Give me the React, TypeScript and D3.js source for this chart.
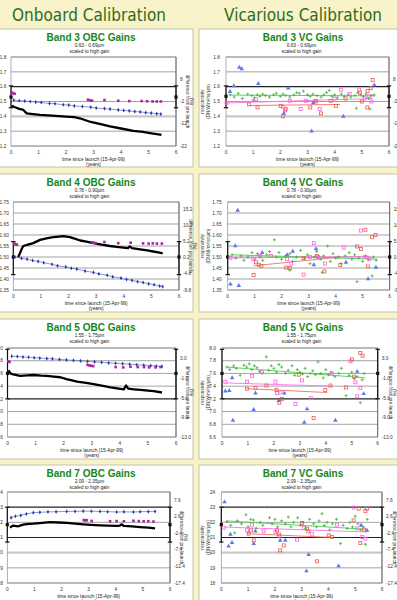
import * as d3 from 'd3'

type P = [number, number]

// ---- Band 3 (0.63 - 0.69µm)
const b3Ticks = [1.2, 1.3, 1.4, 1.5, 1.6, 1.7, 1.8]
const b3RightTicks = [-22, -12, -2, 8]
const b3ObcBlack: P[] = [[0.02, 1.47], [0.1, 1.465], [0.3, 1.45], [0.45, 1.443], [0.57, 1.42], [0.8, 1.415], [1.05, 1.41], [1.5, 1.405], [2.0, 1.398], [2.3, 1.395], [2.5, 1.387], [2.9, 1.362], [3.3, 1.345], [3.6, 1.332], [4.0, 1.318], [4.45, 1.302], [4.8, 1.295], [5.05, 1.287], [5.3, 1.28], [5.47, 1.275]]
const b3ObcBlue: P[] = [[0.1, 1.51], [0.3, 1.505], [0.5, 1.503], [0.7, 1.5], [0.9, 1.496], [1.1, 1.493], [1.4, 1.487], [1.6, 1.485], [1.9, 1.478], [2.1, 1.476], [2.3, 1.47], [2.6, 1.466], [2.9, 1.462], [3.1, 1.456], [3.4, 1.452], [3.6, 1.449], [3.9, 1.443], [4.1, 1.44], [4.3, 1.437], [4.5, 1.432], [4.7, 1.43], [4.9, 1.425], [5.1, 1.422], [5.3, 1.418], [5.45, 1.416]]
const b3ObcMag: P[] = [[0.03, 1.56], [0.08, 1.555], [0.13, 1.552], [2.8, 1.512], [2.88, 1.508], [2.95, 1.505], [3.4, 1.51], [3.9, 1.505], [4.3, 1.503], [4.75, 1.503], [4.95, 1.502], [5.15, 1.5], [5.3, 1.5], [5.45, 1.5]]
const b3VcGreen: P[] = [[0.15, 1.545], [0.3, 1.53], [0.45, 1.555], [0.6, 1.52], [0.8, 1.55], [0.95, 1.54], [1.0, 1.51], [1.05, 1.525], [1.15, 1.545], [1.25, 1.535], [1.35, 1.55], [1.45, 1.54], [1.6, 1.53], [1.75, 1.545], [1.85, 1.555], [2.0, 1.535], [2.1, 1.55], [2.2, 1.54], [2.35, 1.53], [2.5, 1.545], [2.6, 1.56], [2.7, 1.555], [2.85, 1.57], [3.0, 1.545], [3.1, 1.535], [3.2, 1.55], [3.35, 1.54], [3.5, 1.53], [3.6, 1.545], [3.7, 1.56], [3.8, 1.575], [3.9, 1.535], [4.0, 1.545], [4.1, 1.525], [4.25, 1.55], [4.35, 1.535], [4.5, 1.545], [4.6, 1.53], [4.75, 1.54], [4.8, 1.455], [4.85, 1.56], [4.95, 1.545], [5.05, 1.535], [5.15, 1.55], [5.25, 1.52], [5.3, 1.45], [5.35, 1.54], [5.45, 1.545]]
const b3VcPink: P[] = [[0.02, 1.49], [1.1, 1.515], [2.1, 1.465], [2.2, 1.45], [2.35, 1.505], [2.75, 1.45], [2.95, 1.505], [3.3, 1.5], [3.45, 1.45], [4.0, 1.52], [4.23, 1.58], [4.55, 1.55], [4.9, 1.58], [5.1, 1.52], [5.25, 1.535], [5.35, 1.5]]
const b3VcSalmon: P[] = [[0.85, 1.48], [1.16, 1.46], [2.01, 1.47], [2.1, 1.4], [2.18, 1.44], [3.1, 1.46], [3.3, 1.505], [3.5, 1.42], [3.85, 1.505], [4.05, 1.47], [4.4, 1.52], [4.93, 1.56], [5.0, 1.5], [5.2, 1.46], [5.21, 1.57], [5.33, 1.59], [5.4, 1.645]]
const b3VcBlue: P[] = [[0.15, 1.567], [0.29, 1.605], [0.49, 1.73], [0.58, 1.72], [1.19, 1.62], [2.13, 1.42], [2.29, 1.59], [3.15, 1.3], [3.21, 1.49], [4.32, 1.4], [5.46, 1.61]]
const b3TrendGreen: P[] = [[0.15, 1.543], [5.5, 1.538]]
const b3TrendPink: P[] = [[0.0, 1.49], [5.4, 1.52]]
const b3TrendSalmon: P[] = [[0.85, 1.473], [4.2, 1.48]]

// ---- Band 4 (0.78 - 0.90µm)
const b4Ticks = [1.35, 1.4, 1.45, 1.5, 1.55, 1.6, 1.65, 1.7, 1.75]
const b4RightTicks = [-9.8, -4.8, 0.2, 5.2, 10.2, 15.2]
const b4ObcBlack: P[] = [[0.18, 1.5], [0.25, 1.52], [0.3, 1.535], [0.36, 1.55], [0.5, 1.555], [0.72, 1.563], [0.97, 1.578], [1.2, 1.585], [1.45, 1.59], [1.65, 1.593], [1.81, 1.595], [2.05, 1.59], [2.25, 1.582], [2.42, 1.575], [2.65, 1.57], [2.9, 1.563], [3.2, 1.556], [3.5, 1.55], [3.75, 1.546], [3.99, 1.543], [4.15, 1.54], [4.22, 1.548], [4.3, 1.54], [4.59, 1.535], [4.85, 1.53], [5.07, 1.525], [5.25, 1.521], [5.41, 1.517]]
const b4ObcBlue: P[] = [[0.06, 1.5], [0.3, 1.494], [0.5, 1.49], [0.7, 1.484], [0.9, 1.48], [1.1, 1.474], [1.4, 1.467], [1.6, 1.46], [1.9, 1.455], [2.1, 1.449], [2.3, 1.445], [2.6, 1.436], [2.9, 1.43], [3.1, 1.423], [3.4, 1.417], [3.6, 1.41], [3.9, 1.404], [4.1, 1.398], [4.3, 1.394], [4.5, 1.388], [4.7, 1.384], [4.9, 1.378], [5.1, 1.374], [5.3, 1.368], [5.41, 1.365]]
const b4ObcMag: P[] = [[0.03, 1.562], [0.08, 1.558], [0.13, 1.556], [2.85, 1.567], [2.92, 1.565], [2.98, 1.563], [3.3, 1.568], [3.8, 1.563], [4.25, 1.565], [4.7, 1.562], [4.9, 1.561], [5.05, 1.562], [5.2, 1.561], [5.38, 1.561]]
const b4VcGreen: P[] = [[0.16, 1.51], [0.3, 1.495], [0.5, 1.505], [0.6, 1.485], [0.75, 1.5], [0.9, 1.52], [1.0, 1.49], [1.1, 1.515], [1.2, 1.5], [1.3, 1.485], [1.45, 1.51], [1.55, 1.525], [1.73, 1.578], [1.8, 1.5], [1.9, 1.52], [2.0, 1.49], [2.15, 1.505], [2.3, 1.515], [2.3, 1.44], [2.4, 1.48], [2.55, 1.5], [2.7, 1.53], [2.85, 1.495], [2.95, 1.51], [3.05, 1.47], [3.2, 1.5], [3.3, 1.525], [3.45, 1.49], [3.5, 1.43], [3.55, 1.505], [3.7, 1.55], [3.8, 1.48], [3.9, 1.515], [4.0, 1.495], [4.1, 1.5], [4.2, 1.47], [4.35, 1.505], [4.5, 1.52], [4.6, 1.49], [4.7, 1.51], [4.79, 1.388], [4.85, 1.495], [5.0, 1.48], [5.1, 1.505], [5.2, 1.49], [5.35, 1.414], [5.4, 1.5], [5.5, 1.485]]
const b4VcPink: P[] = [[0.1, 1.497], [0.95, 1.49], [1.2, 1.505], [1.6, 1.505], [2.2, 1.49], [2.35, 1.47], [2.81, 1.42], [3.05, 1.5], [3.19, 1.563], [3.35, 1.5], [3.6, 1.47], [4.3, 1.543], [4.94, 1.62], [5.1, 1.5], [5.25, 1.49]]
const b4VcSalmon: P[] = [[0.96, 1.418], [1.05, 1.476], [1.15, 1.465], [1.25, 1.46], [2.17, 1.452], [2.3, 1.45], [2.81, 1.495], [3.3, 1.505], [3.58, 1.434], [4.17, 1.464], [4.79, 1.548], [4.94, 1.536], [5.1, 1.624], [5.19, 1.457], [5.35, 1.59], [5.47, 1.6]]
const b4VcBlue: P[] = [[0.1, 1.377], [0.28, 1.55], [0.37, 1.712], [0.41, 1.37], [1.28, 1.52], [2.2, 1.51], [2.41, 1.525], [3.19, 1.464], [3.27, 1.537], [4.38, 1.475], [5.2, 1.4], [5.49, 1.453]]
const b4TrendGreen: P[] = [[0.16, 1.51], [5.53, 1.49]]
const b4TrendPink: P[] = [[0.1, 1.495], [5.3, 1.503]]
const b4TrendSalmon: P[] = [[0.96, 1.46], [4.17, 1.5]]

// ---- Band 5 (1.55 - 1.75µm)
const b5Ticks = [6.6, 6.8, 7.0, 7.2, 7.4, 7.6, 7.8, 8.0]
const b5RightTicks = [-13, -9, -5, -1, 3]
const b5ObcBlack: P[] = [[0.04, 7.65], [0.1, 7.6], [0.2, 7.585], [0.45, 7.56], [0.7, 7.57], [0.93, 7.575], [1.2, 7.565], [1.4, 7.56], [1.65, 7.55], [1.88, 7.54], [2.1, 7.51], [2.3, 7.49], [2.48, 7.47], [2.8, 7.45], [3.07, 7.43], [3.4, 7.405], [3.67, 7.38], [3.9, 7.365], [4.14, 7.35], [4.22, 7.41], [4.3, 7.36], [4.5, 7.35], [4.74, 7.34], [5.0, 7.33], [5.21, 7.32], [5.5, 7.3]]
const b5ObcBlue: P[] = [[0.15, 7.87], [0.35, 7.866], [0.55, 7.858], [0.75, 7.855], [0.95, 7.846], [1.15, 7.842], [1.4, 7.833], [1.6, 7.83], [1.85, 7.82], [2.1, 7.813], [2.35, 7.805], [2.6, 7.797], [2.85, 7.79], [3.1, 7.782], [3.35, 7.775], [3.6, 7.766], [3.85, 7.76], [4.1, 7.752], [4.35, 7.745], [4.6, 7.737], [4.85, 7.73], [5.1, 7.722], [5.3, 7.716], [5.5, 7.71]]
const b5ObcMag: P[] = [[0.03, 7.79], [0.07, 7.78], [2.85, 7.735], [2.92, 7.725], [2.98, 7.72], [3.05, 7.715], [3.85, 7.7], [4.12, 7.695], [4.38, 7.705], [4.64, 7.7], [4.86, 7.7], [5.04, 7.695], [5.27, 7.695], [5.45, 7.7]]
const b5VcGreen: P[] = [[0.19, 7.7], [0.3, 7.66], [0.45, 7.72], [0.55, 7.68], [0.7, 7.57], [0.85, 7.73], [0.95, 7.7], [1.05, 7.75], [1.15, 7.66], [1.25, 7.72], [1.35, 7.69], [1.45, 7.63], [1.55, 7.6], [1.71, 7.86], [1.8, 7.65], [1.9, 7.72], [2.0, 7.68], [2.1, 7.62], [2.2, 7.74], [2.3, 7.7], [2.45, 7.6], [2.55, 7.65], [2.7, 7.72], [2.8, 7.57], [2.9, 7.66], [3.0, 7.62], [3.1, 7.59], [3.2, 7.68], [3.3, 7.55], [3.4, 7.6], [3.5, 7.64], [3.6, 7.58], [3.7, 7.78], [3.8, 7.6], [3.9, 7.53], [4.0, 7.66], [4.1, 7.58], [4.2, 7.62], [4.35, 7.55], [4.5, 7.6], [4.6, 7.68], [4.78, 7.25], [4.9, 7.57], [5.0, 7.62], [5.1, 7.52], [5.2, 7.55], [5.33, 7.14], [5.4, 7.5], [5.48, 7.6]]
const b5VcPink: P[] = [[0.13, 7.47], [0.96, 7.47], [1.16, 7.56], [1.54, 7.62], [2.06, 7.47], [2.12, 7.29], [2.25, 7.3], [2.83, 7.12], [3.08, 7.49], [3.43, 7.21], [4.24, 7.6], [4.95, 7.79], [5.14, 7.46], [5.21, 7.24], [5.33, 7.37]]
const b5VcSalmon: P[] = [[0.96, 7.36], [1.29, 7.37], [1.71, 7.41], [2.1, 7.34], [2.21, 7.14], [2.31, 7.2], [2.96, 7.58], [3.53, 6.9], [3.98, 7.34], [4.18, 7.41], [4.78, 7.38], [5.01, 7.82], [5.08, 7.55], [5.33, 7.92], [5.42, 7.88]]
const b5VcBlue: P[] = [[0.13, 7.32], [0.28, 7.33], [0.39, 7.53], [0.42, 6.86], [1.22, 7.03], [1.29, 7.29], [2.19, 7.17], [2.4, 7.29], [3.17, 6.83], [3.28, 7.04], [4.37, 6.86], [5.21, 7.63], [5.46, 7.28]]
const b5TrendGreen: P[] = [[0.19, 7.7], [5.53, 7.53]]
const b5TrendPink: P[] = [[0.13, 7.45], [4.24, 7.4]]
const b5TrendSalmon: P[] = [[0.96, 7.36], [4.05, 7.3]]

// ---- Band 7 (2.09 - 2.35µm)
const b7Ticks = [18, 19, 20, 21, 22, 23, 24]
const b7RightTicks = [-17.4, -12.4, -7.4, -2.4, 2.6, 7.6]
const b7ObcBlack: P[] = [[0.1, 21.65], [0.2, 21.78], [0.41, 21.74], [0.55, 21.83], [0.65, 21.87], [0.8, 21.9], [0.96, 21.91], [1.2, 21.95], [1.57, 22.02], [1.9, 21.99], [2.19, 21.96], [2.5, 21.92], [2.8, 21.87], [3.1, 21.83], [3.42, 21.8], [3.7, 21.78], [4.03, 21.76], [4.15, 21.78], [4.22, 21.87], [4.3, 21.76], [4.6, 21.73], [4.9, 21.69], [5.2, 21.65], [5.45, 21.6]]
const b7ObcBlue: P[] = [[0.14, 22.31], [0.3, 22.4], [0.5, 22.46], [0.7, 22.55], [0.96, 22.64], [1.2, 22.66], [1.5, 22.69], [1.8, 22.7], [2.19, 22.72], [2.5, 22.72], [2.8, 22.74], [3.1, 22.73], [3.42, 22.72], [3.7, 22.7], [4.03, 22.68], [4.3, 22.69], [4.65, 22.68], [4.9, 22.7], [5.2, 22.71], [5.45, 22.72]]
const b7ObcMag: P[] = [[2.82, 22.15], [2.87, 22.13], [2.93, 22.14], [3.11, 22.09], [3.79, 22.07], [4.03, 22.08], [4.3, 22.07], [4.65, 22.1], [4.85, 22.08], [5.03, 22.07], [5.2, 22.07], [5.39, 22.05]]
const b7VcGreen: P[] = [[0.21, 22.05], [0.35, 21.8], [0.5, 21.3], [0.6, 22.1], [0.75, 21.9], [0.92, 22.5], [1.0, 21.7], [1.1, 22.2], [1.2, 22.15], [1.3, 21.6], [1.45, 22.0], [1.55, 21.8], [1.71, 23.0], [1.8, 22.3], [1.9, 21.9], [2.0, 22.2], [2.1, 21.7], [2.25, 22.1], [2.4, 21.9], [2.5, 22.35], [2.6, 21.7], [2.7, 22.0], [2.85, 22.3], [2.95, 21.8], [3.05, 22.0], [3.15, 21.6], [3.3, 22.2], [3.45, 21.9], [3.55, 21.7], [3.65, 22.1], [3.76, 22.57], [3.85, 21.8], [3.95, 22.0], [4.05, 21.5], [4.15, 21.9], [4.3, 22.2], [4.45, 20.6], [4.55, 21.8], [4.7, 21.6], [4.8, 22.0], [4.9, 21.7], [5.0, 22.4], [5.1, 21.9], [5.2, 21.5], [5.3, 21.7], [5.38, 20.55], [5.45, 22.2]]
const b7VcPink: P[] = [[0.09, 21.65], [0.96, 21.47], [1.15, 21.85], [1.58, 21.41], [2.02, 21.36], [2.17, 21.08], [2.83, 20.86], [3.08, 21.63], [3.39, 21.25], [4.32, 21.85], [4.94, 22.97], [5.07, 21.6], [5.26, 21.03], [5.38, 20.92]]
const b7VcSalmon: P[] = [[1.02, 21.25], [1.11, 21.47], [1.21, 20.81], [2.08, 21.47], [2.15, 21.2], [2.2, 20.15], [2.33, 20.48], [3.01, 21.96], [3.2, 21.58], [3.25, 21.4], [3.57, 19.43], [4.01, 21.14], [4.13, 21.03], [4.94, 22.13], [5.13, 22.9], [5.19, 20.64], [5.32, 21.52], [5.38, 22.75], [5.44, 22.9]]
const b7VcBlue: P[] = [[0.12, 23.34], [0.27, 20.42], [0.34, 21.21], [0.4, 20.66], [1.21, 20.59], [1.27, 21.41], [2.2, 20.81], [2.39, 20.81], [3.18, 18.79], [3.26, 19.87], [4.38, 19.12], [5.22, 21.8], [5.44, 21.47]]
const b7TrendGreen: P[] = [[0.21, 22.09], [5.44, 21.54]]
const b7TrendPink: P[] = [[0.09, 21.69], [5.44, 21.36]]
const b7TrendSalmon: P[] = [[0.96, 21.25], [4.2, 21.0]]

const xTicks = [0, 1, 2, 3, 4, 5, 6]

const BG = '#f8f3c9'
const HEAD = '#2f6b22'
const TITLE = '#16861a'
const SANS = "'Liberation Sans', Arial, sans-serif"

interface Cfg {
  left: number; width: number; top: number; height: number
  px0: number; px1: number; py0: number; py1: number
  title: string; sub: string; titleCx: number
  yDomain: [number, number]; yTicks: number[]; yDec: number
  rDomain: [number, number]; rTicks: number[]; rDec: number
  err: [number, number, number]
  dark: number[]; heavy: number[]
  obc?: { black: P[]; blue: P[]; mag: P[] }
  vc?: { green: P[]; pink: P[]; salmon: P[]; blue: P[]; tg: P[]; tp: P[]; ts: P[] }
}

const L = { left: -1, width: 194, titleCx: 91 }
const R = { left: 199, width: 200, titleCx: 303 }

const panels: Cfg[] = [
  { ...L, top: 29, height: 138, px0: 11, px1: 176, py0: 57, py1: 146, title: 'Band 3 OBC Gains', sub: '0.63 - 0.69µm',
    yDomain: [1.2, 1.8], yTicks: b3Ticks, yDec: 1, rDomain: [-22, 18], rTicks: b3RightTicks, rDec: 0,
    err: [1.458, 1.53, 1.605], dark: [1.6], heavy: [1.4], obc: { black: b3ObcBlack, blue: b3ObcBlue, mag: b3ObcMag } },
  { ...R, top: 29, height: 138, px0: 226, px1: 389, py0: 57, py1: 146, title: 'Band 3 VC Gains', sub: '0.63 - 0.69µm',
    yDomain: [1.2, 1.8], yTicks: b3Ticks, yDec: 1, rDomain: [-22, 18], rTicks: b3RightTicks, rDec: 0,
    err: [1.458, 1.535, 1.605], dark: [1.6], heavy: [1.4],
    vc: { green: b3VcGreen, pink: b3VcPink, salmon: b3VcSalmon, blue: b3VcBlue, tg: b3TrendGreen, tp: b3TrendPink, ts: b3TrendSalmon } },
  { ...L, top: 174, height: 138, px0: 13.3, px1: 179, py0: 202, py1: 290, title: 'Band 4 OBC Gains', sub: '0.78 - 0.90µm',
    yDomain: [1.35, 1.75], yTicks: b4Ticks, yDec: 2, rDomain: [-9.8, 17.36], rTicks: b4RightTicks, rDec: 1,
    err: [1.42, 1.5, 1.57], dark: [], heavy: [], obc: { black: b4ObcBlack, blue: b4ObcBlue, mag: b4ObcMag } },
  { ...R, top: 174, height: 138, px0: 227.7, px1: 389.7, py0: 202, py1: 290, title: 'Band 4 VC Gains', sub: '0.78 - 0.90µm',
    yDomain: [1.35, 1.75], yTicks: b4Ticks, yDec: 2, rDomain: [-9.8, 17.36], rTicks: b4RightTicks, rDec: 1,
    err: [1.42, 1.5, 1.57], dark: [], heavy: [],
    vc: { green: b4VcGreen, pink: b4VcPink, salmon: b4VcSalmon, blue: b4VcBlue, tg: b4TrendGreen, tp: b4TrendPink, ts: b4TrendSalmon } },
  { ...L, top: 319, height: 140, px0: 7.5, px1: 176, py0: 348, py1: 437, title: 'Band 5 OBC Gains', sub: '1.55 - 1.75µm',
    yDomain: [6.6, 8.0], yTicks: b5Ticks, yDec: 1, rDomain: [-13, 5.2], rTicks: b5RightTicks, rDec: 1,
    err: [7.2, 7.6, 7.98], dark: [7.2], heavy: [], obc: { black: b5ObcBlack, blue: b5ObcBlue, mag: b5ObcMag } },
  { ...R, top: 319, height: 140, px0: 222, px1: 377.7, py0: 348, py1: 437, title: 'Band 5 VC Gains', sub: '1.55 - 1.75µm',
    yDomain: [6.6, 8.0], yTicks: b5Ticks, yDec: 1, rDomain: [-13, 5.2], rTicks: b5RightTicks, rDec: 1,
    err: [7.2, 7.6, 7.98], dark: [7.2], heavy: [],
    vc: { green: b5VcGreen, pink: b5VcPink, salmon: b5VcSalmon, blue: b5VcBlue, tg: b5TrendGreen, tp: b5TrendPink, ts: b5TrendSalmon } },
  { ...L, top: 465, height: 150, px0: 7.3, px1: 170, py0: 492, py1: 583, title: 'Band 7 OBC Gains', sub: '2.09 - 2.35µm',
    yDomain: [18, 24], yTicks: b7Ticks, yDec: 0, rDomain: [-17.4, 10.0], rTicks: b7RightTicks, rDec: 1,
    err: [20.7, 21.85, 23.0], dark: [23, 21], heavy: [20], obc: { black: b7ObcBlack, blue: b7ObcBlue, mag: b7ObcMag } },
  { ...R, top: 465, height: 150, px0: 221.3, px1: 382, py0: 492, py1: 583, title: 'Band 7 VC Gains', sub: '2.09 - 2.35µm',
    yDomain: [18, 24], yTicks: b7Ticks, yDec: 0, rDomain: [-17.4, 10.0], rTicks: b7RightTicks, rDec: 1,
    err: [20.7, 21.85, 23.0], dark: [23, 21], heavy: [20],
    vc: { green: b7VcGreen, pink: b7VcPink, salmon: b7VcSalmon, blue: b7VcBlue, tg: b7TrendGreen, tp: b7TrendPink, ts: b7TrendSalmon } },
]

const diamond = d3.symbol(d3.symbolDiamond, 5)()
const triangle = d3.symbol(d3.symbolTriangle, 9)()

function Panel({ c }: { c: Cfg }) {
  const x = d3.scaleLinear().domain([0, 6]).range([c.px0, c.px1])
  const y = d3.scaleLinear().domain(c.yDomain).range([c.py1, c.py0])
  const yr = d3.scaleLinear().domain(c.rDomain).range([c.py1, c.py0])
  const line = d3.line<P>().x(d => x(d[0])).y(d => y(d[1]))
  const midY = (c.py0 + c.py1) / 2
  const midX = (c.px0 + c.px1) / 2
  const [lo, mid, hi] = c.err
  const isVc = !!c.vc

  return (
    <g>
      <rect x={c.left} y={c.top} width={c.width} height={c.height} fill="#fff" stroke="#c4c2b0" strokeWidth={1} />
      <text x={c.titleCx} y={c.top + 11.7} textAnchor="middle" fontFamily={SANS} fontWeight="bold" fontSize={10} fill={TITLE}>{c.title}</text>
      <text x={c.titleCx - 1.5} y={c.top + 18} textAnchor="middle" fontFamily={SANS} fontSize={4.8} fill="#222">{c.sub}</text>
      <text x={c.titleCx - 1.5} y={c.top + 24.2} textAnchor="middle" fontFamily={SANS} fontSize={4.8} fill="#222">scaled to high gain</text>

      {/* gridlines */}
      {c.yTicks.map(t => (
        <line key={'g' + t} x1={c.px0} x2={c.px1} y1={y(t)} y2={y(t)}
          stroke={c.dark.includes(t) ? '#222' : c.heavy.includes(t) ? '#c8c8c8' : '#8c8c8c'}
          strokeWidth={c.dark.includes(t) ? 1.1 : c.heavy.includes(t) ? 2.2 : 0.8} />
      ))}
      <rect x={c.px0} y={c.py0} width={c.px1 - c.px0} height={c.py1 - c.py0} fill="none" stroke="#9a9a9a" strokeWidth={0.8} />
      <line x1={c.px1} x2={c.px1} y1={c.py0} y2={c.py1} stroke="#555" strokeWidth={0.8} />

      {/* axis labels */}
      {c.yTicks.map(t => (
        <text key={'yl' + t} x={c.px0 - (isVc ? 6 : 4.5)} y={y(t) + 1.7} textAnchor="end" fontFamily={SANS} fontSize={4.8} fill="#333">{t.toFixed(c.yDec)}</text>
      ))}
      {c.rTicks.map(t => (
        <text key={'rl' + t} x={c.px1 + 4} y={yr(t) + 1.7} fontFamily={SANS} fontSize={4.8} fill="#333">{t.toFixed(c.rDec)}</text>
      ))}
      {xTicks.map(t => (
        <text key={'xl' + t} x={x(t)} y={c.py1 + 8} textAnchor="middle" fontFamily={SANS} fontSize={4.8} fill="#333">{t}</text>
      ))}
      <text x={midX} y={c.py1 + 14.5} textAnchor="middle" fontFamily={SANS} fontSize={4.8} fill="#222">time since launch (15-Apr-99)</text>
      <text x={midX} y={c.py1 + 20} textAnchor="middle" fontFamily={SANS} fontSize={4.8} fill="#222">(years)</text>
      <text transform={`translate(${c.px1 + (isVc ? 11 : 9.5)},${midY}) rotate(90)`} textAnchor="middle" fontFamily={SANS} fontSize={4.6} fill="#333">
        <tspan x={0} dy={0}>difference from pre-launch</tspan>
        <tspan x={0} dy={-4.8}>(%)</tspan>
      </text>
      {isVc && (
        <text transform={`translate(${c.left + 5},${midY}) rotate(-90)`} textAnchor="middle" fontFamily={SANS} fontSize={4.6} fill="#333">
          <tspan x={0} dy={0}>responsivity</tspan>
          <tspan x={0} dy={5.5}>(DN/W/m²/sr/µm)</tspan>
        </text>
      )}

      {/* tolerance bars at both ends */}
      {[c.px0, c.px1].map(px => (
        <g key={'e' + px} stroke="#111" strokeWidth={1.2}>
          <line x1={px} x2={px} y1={y(lo)} y2={y(hi)} />
          <line x1={px - 2.2} x2={px + 2.2} y1={y(lo)} y2={y(lo)} />
          <line x1={px - 2.2} x2={px + 2.2} y1={y(hi)} y2={y(hi)} />
          <rect x={px - 1.6} y={y(mid) - 1.6} width={3.2} height={3.2} fill="#111" stroke="none" />
        </g>
      ))}

      {c.obc && (
        <g>
          <path d={line(c.obc.blue) ?? ''} fill="none" stroke="#5a68cc" strokeWidth={0.7} />
          {c.obc.blue.map((d, i) => (
            <path key={'bd' + i} d={diamond ?? ''} transform={`translate(${x(d[0])},${y(d[1])})`} fill="#2a3aa8" />
          ))}
          <path d={line(c.obc.black) ?? ''} fill="none" stroke="#000" strokeWidth={2.3} strokeLinejoin="round" />
          {c.obc.mag.map((d, i) => (
            <rect key={'m' + i} x={x(d[0]) - 1.3} y={y(d[1]) - 1.3} width={2.6} height={2.6} fill="#a8289e" />
          ))}
        </g>
      )}

      {c.vc && (
        <g>
          <path d={line(c.vc.tg) ?? ''} stroke="#4ccc4c" strokeWidth={0.9} fill="none" />
          <path d={line(c.vc.tp) ?? ''} stroke="#ff70ee" strokeWidth={0.9} fill="none" />
          <path d={line(c.vc.ts) ?? ''} stroke="#f0705c" strokeWidth={0.9} fill="none" />
          {c.vc.green.map((d, i) => (
            <path key={'g' + i} d="M-1.5,0H1.5M0,-1.5V1.5" transform={`translate(${x(d[0])},${y(d[1])})`} stroke="#34b834" strokeWidth={0.8} />
          ))}
          {c.vc.pink.map((d, i) => (
            <rect key={'p' + i} x={x(d[0]) - 1.5} y={y(d[1]) - 1.5} width={3} height={3} fill="none" stroke="#ff5ee0" strokeWidth={0.8} />
          ))}
          {c.vc.salmon.map((d, i) => (
            <rect key={'s' + i} x={x(d[0]) - 1.5} y={y(d[1]) - 1.5} width={3} height={3} fill="none" stroke="#ec5a48" strokeWidth={0.8} />
          ))}
          {c.vc.blue.map((d, i) => (
            <path key={'b' + i} d={triangle ?? ''} transform={`translate(${x(d[0])},${y(d[1])})`} fill="#5a78f0" />
          ))}
        </g>
      )}
    </g>
  )
}

export default function App() {
  return (
    <svg width={397} height={600} style={{ position: 'absolute', left: 0, top: 0, display: 'block' }}>
      <rect width={397} height={600} fill={BG} />
      <text x={12} y={20.7} fontFamily="'DejaVu Sans', Verdana, sans-serif" fontSize={18} fill={HEAD}
        textLength={154} lengthAdjust="spacingAndGlyphs">Onboard Calibration</text>
      <text x={224} y={20.7} fontFamily="'DejaVu Sans', Verdana, sans-serif" fontSize={18} fill={HEAD}
        textLength={158} lengthAdjust="spacingAndGlyphs">Vicarious Calibration</text>
      {panels.map(c => <Panel key={c.title} c={c} />)}
    </svg>
  )
}
